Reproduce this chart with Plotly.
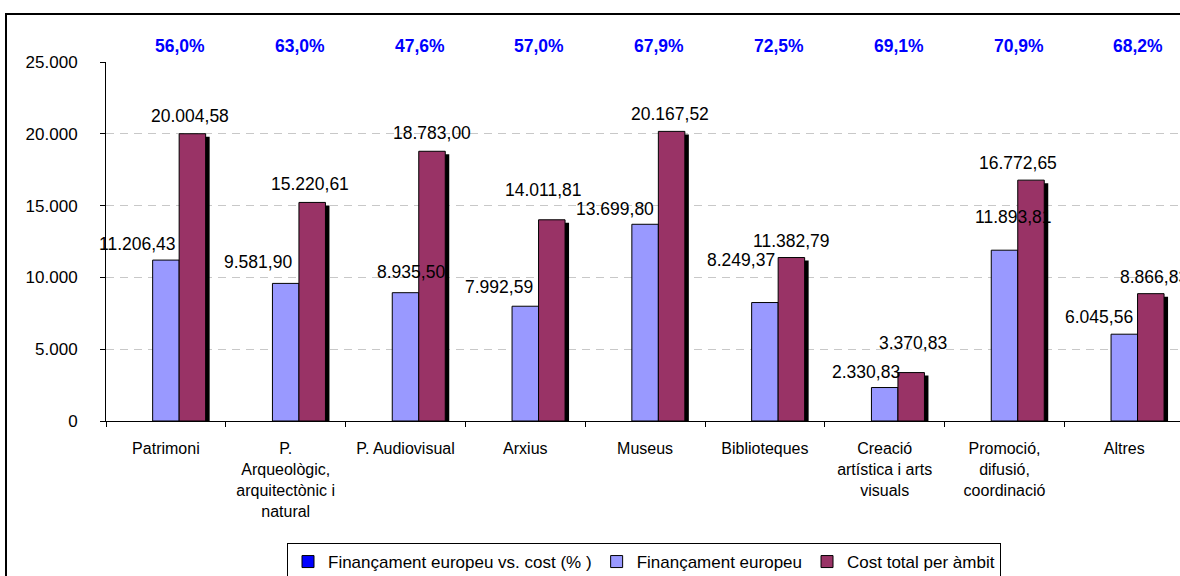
import plotly.graph_objects as go

# ---------------- data ----------------
categories = ["Patrimoni", "P. Arqueològic, arquitectònic i natural", "P. Audiovisual",
              "Arxius", "Museus", "Biblioteques", "Creació artística i arts visuals",
              "Promoció, difusió, coordinació", "Altres"]
tick_labels = ["Patrimoni", "P.<br>Arqueològic,<br>arquitectònic i<br>natural", "P. Audiovisual",
               "Arxius", "Museus", "Biblioteques", "Creació<br>artística i arts<br>visuals",
               "Promoció,<br>difusió,<br>coordinació", "Altres"]
pct_share = [0.560, 0.630, 0.476, 0.570, 0.679, 0.725, 0.691, 0.709, 0.682]
eu_funding = [11206.43, 9581.90, 8935.50, 7992.59, 13699.80, 8249.37, 2330.83, 11893.81, 6045.56]
total_cost = [20004.58, 15220.61, 18783.00, 14011.81, 20167.52, 11382.79, 3370.83, 16772.65, 8866.83]

series_names = ["Finançament europeu vs. cost (% )", "Finançament europeu", "Cost total per àmbit"]

# ---------------- style ----------------
FONT = "Liberation Sans, Arial, sans-serif"
C_PCT, C_EU, C_COST = "#0000FF", "#9999FF", "#993366"
W = 1180; H = 576
L, R, T, B = 106, 0, 62, 155
plot_w = W - L - R
plot_h = H - T - B
cat_px = 119.8                 # pixel width of one category
bar_px = 26.5                  # pixel width of one bar slot
w = bar_px / cat_px
YMAX = 25000
px_per_unit = plot_h / YMAX
NUM_SIZE = 17.5

# per-label nudges (pixels): horizontal offset from bar centre, lift above bar top
eu_dx = [-28, -28, 5, -26, -30, -24, -19, 9, -25]
eu_dy = [16, 21, 21, 19, 15, 43, 16, 33, 17]
cost_dx = [-2, -2, 0, -8, -2, 0, 2, -13, 3]
cost_dy = [18, 18, 18, 30, 17, 17, 30, 17, 17]


def fmt_num(v):
    s = f"{v:,.2f}"
    return s.replace(",", "X").replace(".", ",").replace("X", ".")


def fmt_pct(p):
    return f"{p * 100:.1f}%".replace(".", ",")


fig = go.Figure()

# percentage series: ratio bars on a hidden secondary axis (too small to be seen, legend entry)
fig.add_trace(go.Bar(
    x=categories, y=pct_share, name=series_names[0], yaxis="y2",
    offset=-1.5 * w, width=w,
    marker=dict(color=C_PCT, line=dict(color="black", width=1)),
    hoverinfo="skip",
))
# EU funding bars
fig.add_trace(go.Bar(
    x=categories, y=eu_funding, name=series_names[1],
    offset=-0.5 * w, width=w,
    marker=dict(color=C_EU, line=dict(color="black", width=1)),
))
# shadow of total cost bars
shadow_dx = 4 / cat_px
shadow_dy = 3 / px_per_unit
fig.add_trace(go.Bar(
    x=categories, y=total_cost, base=[-shadow_dy] * len(total_cost),
    offset=0.5 * w + shadow_dx, width=w,
    marker=dict(color="black", line=dict(width=0)),
    showlegend=False, hoverinfo="skip",
))
# total cost bars
fig.add_trace(go.Bar(
    x=categories, y=total_cost, name=series_names[2],
    offset=0.5 * w, width=w,
    marker=dict(color=C_COST, line=dict(color="black", width=1)),
))

annotations = []
for i, c in enumerate(categories):
    annotations.append(dict(
        x=c, y=eu_funding[i], xref="x", yref="y", text=fmt_num(eu_funding[i]),
        showarrow=False, xanchor="center", yanchor="middle",
        xshift=eu_dx[i], yshift=eu_dy[i],
        font=dict(family=FONT, size=NUM_SIZE, color="black"),
    ))
    annotations.append(dict(
        x=c, y=total_cost[i], xref="x", yref="y", text=fmt_num(total_cost[i]),
        showarrow=False, xanchor="center", yanchor="middle",
        xshift=bar_px + cost_dx[i], yshift=cost_dy[i],
        font=dict(family=FONT, size=NUM_SIZE, color="black"),
    ))
    annotations.append(dict(
        x=c, y=(H - B - 46) / plot_h, xref="x", yref="paper", text="<b>" + fmt_pct(pct_share[i]) + "</b>",
        showarrow=False, xanchor="center", yanchor="middle", xshift=14,
        font=dict(family=FONT, size=17.5, color=C_PCT),
    ))

fig.update_layout(
    width=W, height=H,
    margin=dict(l=L, r=R, t=T, b=B, pad=0, autoexpand=False),
    paper_bgcolor="white", plot_bgcolor="white",
    barmode="overlay",
    separators=",.",
    font=dict(family=FONT, size=16, color="black"),
    showlegend=True,
    legend=dict(
        orientation="h", x=(644 - L) / plot_w, y=(H - B - 543) / plot_h,
        xanchor="center", yanchor="top",
        bordercolor="black", borderwidth=1, bgcolor="white",
        font=dict(family=FONT, size=17, color="black"),
        traceorder="normal", itemwidth=30,
    ),
    xaxis=dict(
        type="category", categoryorder="array", categoryarray=categories,
        tickmode="array", tickvals=categories, ticktext=tick_labels,
        range=[-0.5, -0.5 + plot_w / cat_px],
        showline=True, linecolor="black", linewidth=1,
        ticks="outside", tickson="boundaries", ticklen=5, tickcolor="black",
        showgrid=False, zeroline=False,
        tickfont=dict(family=FONT, size=16, color="black"),
        ticklabelstandoff=13,
    ),
    yaxis=dict(
        range=[0, YMAX], dtick=5000, tick0=0, tickformat=",d",
        showline=True, linecolor="black", linewidth=1,
        ticks="outside", ticklen=5, tickcolor="black",
        showgrid=True, gridcolor="#C8C8C8", griddash="8px,6px", gridwidth=1,
        zeroline=False,
        tickfont=dict(family=FONT, size=17, color="black"),
        ticklabelstandoff=19,
    ),
    yaxis2=dict(overlaying="y", range=[1, 2], visible=False, fixedrange=True),
    annotations=annotations,
    shapes=[dict(
        type="rect", xref="paper", yref="paper",
        x0=(6 - L) / plot_w, x1=1.05,
        y0=-0.6, y1=(H - B - 14) / plot_h,
        line=dict(color="black", width=2), fillcolor="rgba(0,0,0,0)", layer="above",
    )],
)

fig.write_html(
    "out.html",
    config={"displayModeBar": False},
    post_script="document.body.style.margin='0';document.body.style.overflow='hidden';",
)
